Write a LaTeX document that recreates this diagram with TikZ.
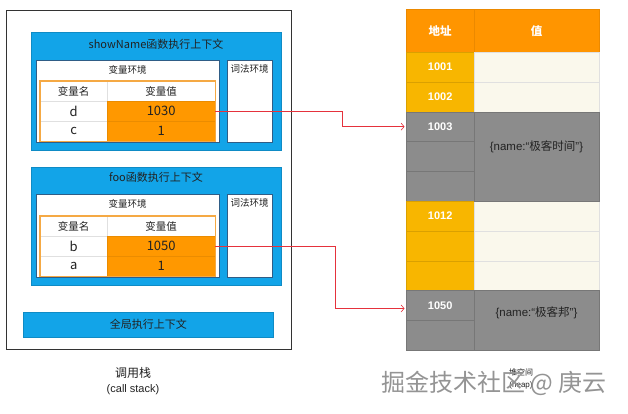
\documentclass[tikz,border=0pt]{standalone}
\usepackage{fontspec}
\setmainfont{Liberation Sans}
\newfontfamily\cjk{Noto Sans CJK SC}
\usepackage{tikz}
\usetikzlibrary{positioning,calc,arrows.meta}
\definecolor{stackblue}{HTML}{12A4E8}
\definecolor{envline}{HTML}{2F5D86}
\definecolor{valorange}{HTML}{FF9800}
\definecolor{tabline}{HTML}{F5A944}
\definecolor{heapor}{HTML}{FF9500}
\definecolor{addryel}{HTML}{F8B600}
\definecolor{heapgray}{HTML}{8C8C8C}
\definecolor{cream}{HTML}{FAF8EC}
\definecolor{ptrred}{HTML}{E5323C}
\definecolor{ink}{HTML}{222222}
\newcommand{\fs}[1]{\fontsize{#1}{#1}\selectfont}
\tikzset{
  box/.style args={#1,#2}{
  anchor=north west,
  inner sep=0pt,
  minimum width=#1pt,
  minimum height=#2pt,
  },
  stackframe/.style={box={#1},draw=black!80,line width=0.6pt},
  ctx/.style={box={#1},fill=stackblue,draw=stackblue!85!black,line width=0.5pt,text=ink,font=\cjk\fs{11}},
  ctxtitle/.style={text=ink,font=\cjk\fs{11}},
  env/.style={box={#1},fill=white,draw=envline,line width=0.6pt},
  envtitle/.style={text=ink,font=\cjk\fs{9.5}},
  headcell/.style={box={#1},fill=white,draw=black!12,line width=0.4pt,text=ink,font=\cjk\fs{10.5}},
  namecell/.style={box={#1},fill=white,draw=black!12,line width=0.4pt,text=ink,font=\cjk\fs{13}},
  valcell/.style={box={#1},fill=valorange,draw=valorange!92!black,line width=0.4pt,text=ink,font=\cjk\fs{13}},
  tabframe/.style={draw=tabline,line width=1.2pt},
  heaphead/.style={box={#1},fill=heapor,draw=heapor!92!black,line width=0.3pt,text=white,font=\cjk\bfseries\fs{11.5}},
  addry/.style={box={68,29.8},fill=addryel,draw=addryel!88!black,line width=0.3pt,text=white,font=\bfseries\fs{11}},
  addrg/.style={box={68,29.8},fill=heapgray,draw=heapgray!85!black,line width=0.3pt,text=white,font=\bfseries\fs{11}},
  valy/.style={box={125,29.8},fill=cream,draw=black!12,line width=0.3pt},
  valg/.style={box={#1},fill=heapgray,draw=heapgray!85!black,line width=0.3pt},
  objtext/.style={text=ink,font=\fs{11.5}},
  ptr/.style={draw=ptrred,line width=0.6pt,shorten >=1.5pt,-{Straight Barb[length=3pt,width=7pt]}},
  watermark/.style={text=black!42,font=\cjk\fs{24}}
}
\begin{document}
\begin{tikzpicture}[x=1pt,y=-1pt]
  \fill[white] (0,0) rectangle (628,413);
  \useasboundingbox (0,0) rectangle (628,413);

  % call stack
  \node[stackframe={285,339}] (stack) at (6,10) {};

  % showName context
  \node[ctx={250,118}] (sn) at (31,32) {};
  \node[ctxtitle] (sn-title) at (156,44) {showName函数执行上下文};
  \node[env={183,82}] (sn-var) at (36,60) {};
  \node[envtitle] (sn-vart) at (127.5,70) {变量环境};
  \node[env={45,82}] (sn-lex) at (227,60) {};
  \node[envtitle] (sn-lext) at (249.5,69) {词法环境};
  \node[headcell={67,20}] (sn-h1) at (40,81) {变量名};
  \node[headcell={108,20}] (sn-h2) at (107,81) {变量值};
  \node[namecell={67,20}] (sn-n1) at (40,101) {d};
  \node[valcell={108,20}] (sn-v1) at (107,101) {1030};
  \node[namecell={67,20}] (sn-n2) at (40,121) {c};
  \node[valcell={108,20}] (sn-v2) at (107,121) {1};
  \draw[tabframe] (sn-h1.north west) rectangle (sn-v2.south east);

  % foo context
  \node[ctx={250,118}] (foo) at (31,167) {};
  \node[ctxtitle] (foo-title) at (156,177) {foo函数执行上下文};
  \node[env={183,83}] (foo-var) at (36,194) {};
  \node[envtitle] (foo-vart) at (127.5,204) {变量环境};
  \node[env={45,83}] (foo-lex) at (227,194) {};
  \node[envtitle] (foo-lext) at (249.5,203) {词法环境};
  \node[headcell={67,20}] (foo-h1) at (40,216) {变量名};
  \node[headcell={108,20}] (foo-h2) at (107,216) {变量值};
  \node[namecell={67,20}] (foo-n1) at (40,236) {b};
  \node[valcell={108,20}] (foo-v1) at (107,236) {1050};
  \node[namecell={67,20}] (foo-n2) at (40,256) {a};
  \node[valcell={108,20}] (foo-v2) at (107,256) {1};
  \draw[tabframe] (foo-h1.north west) rectangle (foo-v2.south east);

  % global context
  \node[ctx={250,25}] (global) at (23,312) {全局执行上下文};

  \node[text=ink,font=\cjk\fs{12}] (stack-l1) at (133,373) {调用栈};
  \node[text=ink,font=\fs{11}] (stack-l2) at (133,390) {(call stack)};

  % heap
  \node[heaphead={68,43}] (hh1) at (406,9) {地址};
  \node[heaphead={125,43}] (hh2) at (474,9) {值};
  \foreach \i/\addr/\kind in {0/1001/addry,1/1002/addry,2/1003/addrg,3/{}/addrg,4/{}/addrg,
                              5/1012/addry,6/{}/addry,7/{}/addry,8/1050/addrg,9/{}/addrg}
    \node[\kind] (h\i) at (406,{52+\i*29.8}) {\addr};
  \foreach \i in {0,1,5,6,7}
    \node[valy] (v\i) at (474,{52+\i*29.8}) {};
  \node[valg={125,89.4}] (vg1) at (474,111.6) {};
  \node[valg={125,59.6}] (vg2) at (474,290.4) {};
  \node[objtext] (obj1) at (536.5,147) {\{name:“{\cjk 极客时间}”\}};
  \node[objtext] (obj2) at (536.5,313) {\{name:“{\cjk 极客邦}”\}};

  \node[text=ink,font=\cjk\fs{8}] (heap-l1) at (521,372) {堆空间};
  \node[text=ink,font=\fs{8}] (heap-l2) at (521,385) {(heap)};

  % pointers
  \draw[ptr] (sn-v1.east) -- ++(127,0) |- (h2.west);
  \draw[ptr] (foo-v1.east) -- ++(120,0) |- ([yshift=-3pt]h8.west);

  \node[watermark] (wm) at (494,383) {掘金技术社区 @ 庚云};
\end{tikzpicture}
\end{document}
